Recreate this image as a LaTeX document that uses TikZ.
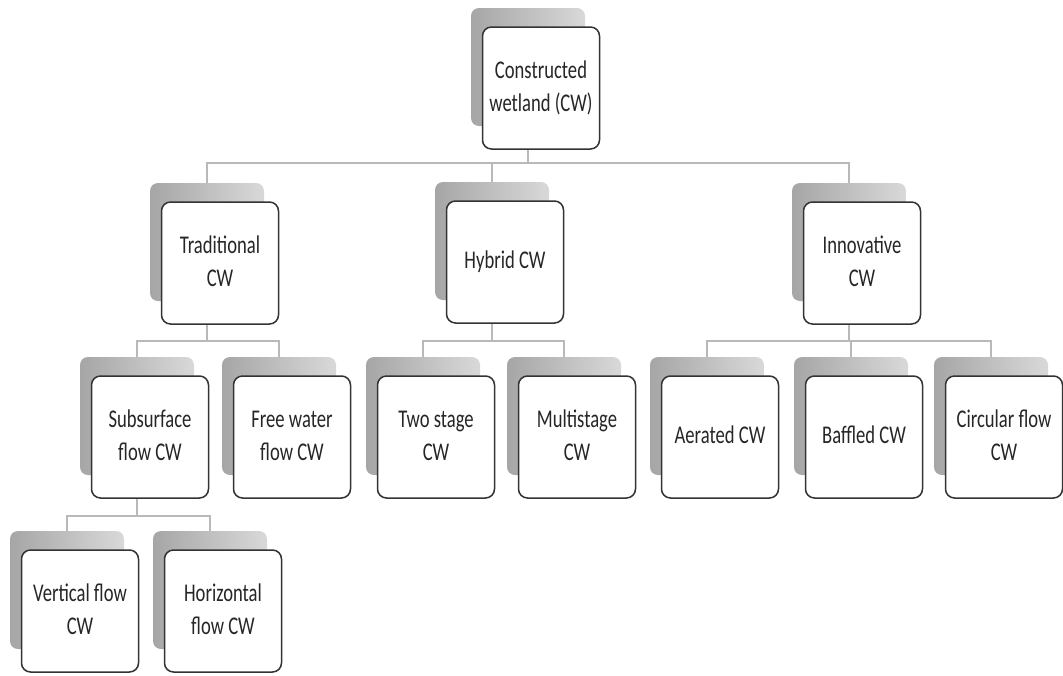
\documentclass[tikz,border=0pt]{standalone}
\usepackage{fontspec}
\setmainfont{Carlito}
\usepackage{graphicx}
\newcommand\boxtxt[1]{\scalebox{0.73}[1]{\begin{tabular}{@{}c@{}}#1\end{tabular}}}
\tikzset{
  front/.style={draw=black!80, line width=1.5pt, fill=white, rounded corners=9pt,
    minimum width=117pt, minimum height=122pt, inner sep=0pt, text=black!85,
    font=\fontsize{25.5}{33}\selectfont},
  shadowbox/.style={left color=gray!70, right color=gray!30, rounded corners=8pt,
    minimum width=114pt, minimum height=118pt, inner sep=0pt},
  conn/.style={draw=gray!55, line width=1.3pt},
}
\newcommand\cwbox[4]{%
  \node[shadowbox] (#1-s) at (#2-13,#3-21) {};
  \node[front] (#1) at (#2,#3) {\boxtxt{#4}};}
\begin{document}
\begin{tikzpicture}[x=1pt,y=-1pt]
\useasboundingbox[fill=white] (0,0) rectangle (1063,675);
\coordinate (bus1) at (0,163);
\coordinate (bus2) at (0,341);
\coordinate (bus3) at (0,516);

\cwbox{cw}{541}{88}{Constructed\\wetland (CW)}
\cwbox{trad}{220}{263}{Traditional\\CW}
\cwbox{hyb}{505}{262}{Hybrid CW}
\cwbox{inno}{862}{263}{Innovative\\CW}
\cwbox{sub}{150}{437}{Subsurface\\flow CW}
\cwbox{free}{292}{437}{Free water\\flow CW}
\cwbox{two}{436}{437}{Two stage\\CW}
\cwbox{multi}{577}{437}{Multistage\\CW}
\cwbox{aer}{720}{437}{Aerated CW}
\cwbox{baf}{864}{437}{Baffled CW}
\cwbox{circ}{1004}{437}{Circular flow\\CW}
\cwbox{vert}{80}{611}{Vertical flow\\CW}
\cwbox{hor}{223}{611}{Horizontal\\flow CW}

\foreach \p/\c/\b in {cw/trad/bus1, cw/hyb/bus1, cw/inno/bus1,
                      trad/sub/bus2, trad/free/bus2,
                      hyb/two/bus2, hyb/multi/bus2,
                      inno/aer/bus2, inno/baf/bus2, inno/circ/bus2,
                      sub/vert/bus3, sub/hor/bus3}
  \draw[conn] (\p-s |- \p.south) -- (\p-s |- \b) -| (\c-s.north);
\end{tikzpicture}
\end{document}
